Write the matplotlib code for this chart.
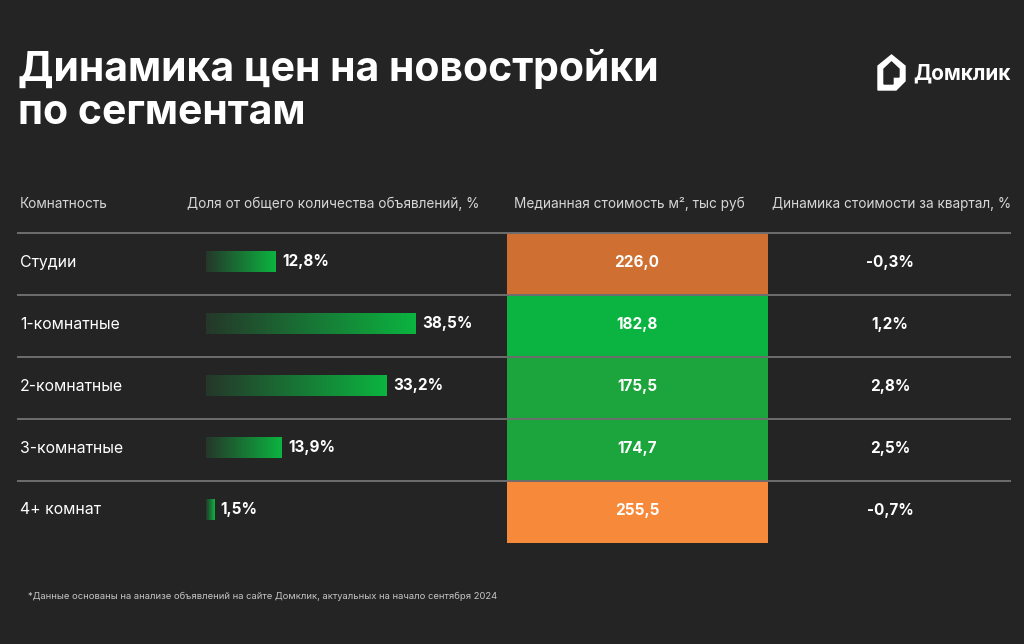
"""Price dynamics of new buildings by segment (Domclick style table)."""

import numpy as np
import matplotlib
matplotlib.use("Agg")
import matplotlib.pyplot as plt
from matplotlib.colors import LinearSegmentedColormap
from matplotlib.patches import Polygon, Rectangle

plt.rcParams["font.family"] = ["Inter", "DejaVu Sans"]

# --- data -----------------------------------------------------------------
segments = ["Студии", "1-комнатные", "2-комнатные", "3-комнатные", "4+ комнат"]
share_pct = [12.8, 38.5, 33.2, 13.9, 1.5]
median_price = [226.0, 182.8, 175.5, 174.7, 255.5]
quarter_change = [-0.3, 1.2, 2.8, 2.5, -0.7]
price_colors = ["#cf6f31", "#0bb440", "#1ba53c", "#1ba53c", "#f6893a"]

headers = [
    "Комнатность",
    "Доля от общего количества объявлений, %",
    "Медианная стоимость м², тыс руб",
    "Динамика стоимости за квартал, %",
]
title_lines = ["Динамика цен на новостройки", "по сегментам"]
footnote = ("*Данные основаны на анализе объявлений на сайте Домклик, "
            "актуальных на начало сентября 2024")


def ru(v, digits=1):
    return f"{v:.{digits}f}".replace(".", ",")


BG = "#242424"
W, H = 1024, 644
fig = plt.figure(figsize=(W / 100, H / 100), dpi=100, facecolor=BG)

# layout axes in pixel coordinates
ax = fig.add_axes([0, 0, 1, 1])
ax.set_xlim(0, W)
ax.set_ylim(H, 0)
ax.axis("off")
ax.set_facecolor(BG)

for k, line in enumerate(title_lines):
    ax.text(18, 81 + 43 * k, line, color="white", fontsize=29.5,
            fontweight="bold", va="baseline", ha="left")

# logo
house = Polygon([(878, 90), (878, 66), (891.5, 55), (905, 66), (905, 81),
                 (896, 90)], closed=True, color="white", zorder=3)
inner = Polygon([(884, 84), (884, 69), (891.5, 62), (899, 69), (899, 77),
                 (893, 77), (893, 84)], closed=True, color=BG, zorder=4)
ax.add_patch(house)
ax.add_patch(inner)
ax.text(913, 73, "Домклик", color="white", fontsize=15, fontweight="bold",
        va="center", ha="left")

# headers
head_y = 204
hc = "#d6d6d6"
ax.text(20, head_y, headers[0], color=hc, fontsize=9.8, va="center")
ax.text(187, head_y, headers[1], color=hc, fontsize=9.8, va="center")
ax.text(629, head_y, headers[2], color=hc, fontsize=9.8, va="center",
        ha="center")
ax.text(892, head_y, headers[3], color=hc, fontsize=9.8, va="center",
        ha="center")

table_top, row_h = 233, 62
cell_x0, cell_x1 = 507, 768
n = len(segments)

for i, seg in enumerate(segments):
    top = table_top + i * row_h
    mid = top + row_h / 2 - 2
    ax.add_patch(Rectangle((cell_x0, top), cell_x1 - cell_x0, row_h,
                           facecolor=price_colors[i], edgecolor="none",
                           zorder=1))
    ax.text(20, mid, seg, color="white", fontsize=11.4, va="center")
    ax.text(637, mid, ru(median_price[i]), color="white", fontsize=11,
            fontweight="bold", va="center", ha="center", zorder=3)
    ax.text(890, mid, ru(quarter_change[i]) + "%", color="white",
            fontsize=11, fontweight="bold", va="center", ha="center")

for i in range(n):
    y = table_top + i * row_h
    ax.plot([18, 1010], [y, y], color="#6e6e6e", lw=1.4, zorder=2)

ax.text(28, 596, footnote, color="#c4c4c4", fontsize=6.8, va="center")

# share bars in their own axes (percent units)
px_per_pct = 5.45
bx0, bw = 206, 300
bax = fig.add_axes([bx0 / W, (H - (table_top + n * row_h)) / H,
                    bw / W, n * row_h / H])
bax.axis("off")
bax.patch.set_alpha(0)

green = LinearSegmentedColormap.from_list("g", ["#25372a", "#0bb440"])
grad = np.linspace(0, 1, 256).reshape(1, -1)
bar_h = 0.34
ypos = np.arange(n) - 0.04
bars = bax.barh(ypos, share_pct, height=bar_h, facecolor="none",
                edgecolor="none", zorder=3)
for b, v, y in zip(bars, share_pct, ypos):
    im = bax.imshow(grad, cmap=green, aspect="auto", zorder=2,
                    extent=(0, v, y + bar_h / 2, y - bar_h / 2))
    im.set_clip_path(b)
    bax.annotate(ru(v) + "%", (v, y), xytext=(4.5, 0),
                 textcoords="offset points", color="white", fontsize=11,
                 fontweight="bold", va="center", ha="left")
bax.set_xlim(0, bw / px_per_pct)
bax.set_ylim(n - 0.5, -0.5)

fig.savefig("out.png", dpi=100, facecolor=BG)
